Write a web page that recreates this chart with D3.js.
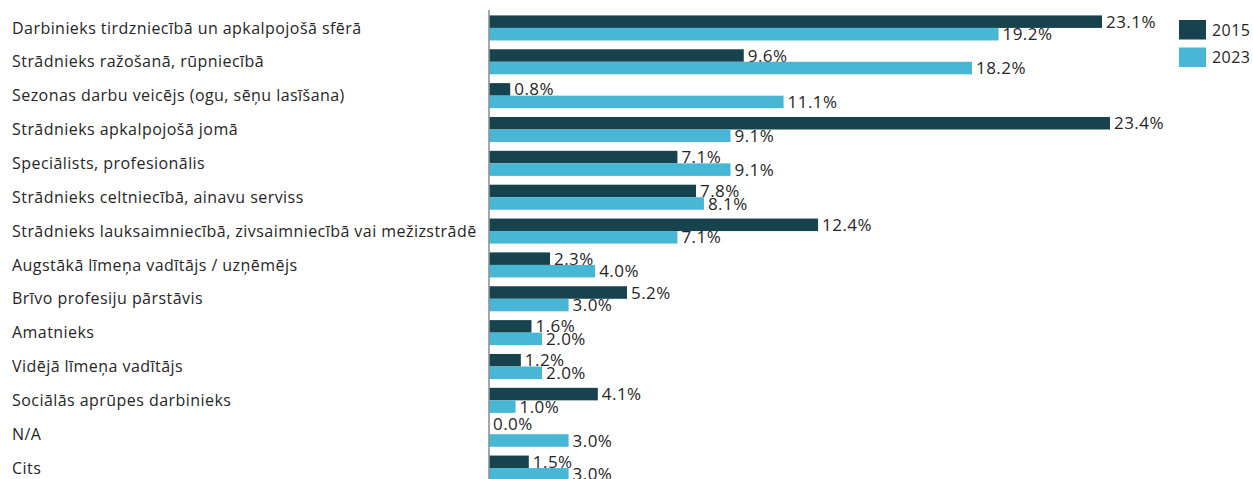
<!DOCTYPE html>
<html>
<head>
<meta charset="utf-8">
<script src="https://cdn.jsdelivr.net/npm/d3@7"></script>
<style>
  html, body { margin: 0; padding: 0; background: #fff; }
  svg text { font-family: "Open Sans", "Noto Sans", sans-serif; fill: #262626; letter-spacing: 0.45px; }
</style>
</head>
<body>
<svg id="chart" width="1253" height="479"></svg>
<script>
const categories = [
  "Darbinieks tirdzniecībā un apkalpojošā sfērā",
  "Strādnieks ražošanā, rūpniecībā",
  "Sezonas darbu veicējs (ogu, sēņu lasīšana)",
  "Strādnieks apkalpojošā jomā",
  "Speciālists, profesionālis",
  "Strādnieks celtniecībā, ainavu serviss",
  "Strādnieks lauksaimniecībā, zivsaimniecībā vai mežizstrādē",
  "Augstākā līmeņa vadītājs / uzņēmējs",
  "Brīvo profesiju pārstāvis",
  "Amatnieks",
  "Vidējā līmeņa vadītājs",
  "Sociālās aprūpes darbinieks",
  "N/A",
  "Cits"
];
const values2015 = [23.1, 9.6, 0.8, 23.4, 7.1, 7.8, 12.4, 2.3, 5.2, 1.6, 1.2, 4.1, 0.0, 1.5];
const values2023 = [19.2, 18.2, 11.1, 9.1, 9.1, 8.1, 7.1, 4.0, 3.0, 2.0, 2.0, 1.0, 3.0, 3.0];
const seriesNames = ["2015", "2023"];
const colors = ["#17434f", "#47b7d5"];

const svg = d3.select("#chart");
const axisX = 489;

const x = d3.scaleLinear().domain([0, 23.4]).range([axisX, 1110]);
const y = d3.scaleBand().domain(categories).range([11, 485]).paddingInner(0.26).paddingOuter(0.13);
const sub = d3.scaleBand().domain(seriesNames).range([0, y.bandwidth()]);

const rows = categories.map((c, i) => ({ c, vals: [values2015[i], values2023[i]] }));

// category labels
svg.append("g").selectAll("text").data(categories).join("text")
  .attr("x", 12)
  .attr("y", d => y(d) + y.bandwidth() / 2)
  .attr("dy", "0.35em")
  .attr("font-size", 16)
  .text(d => d);

// bars and value labels
const g = svg.append("g");
rows.forEach(r => {
  r.vals.forEach((v, j) => {
    const yy = y(r.c) + sub(seriesNames[j]);
    g.append("rect")
      .attr("x", x(0))
      .attr("y", yy)
      .attr("width", x(v) - x(0))
      .attr("height", sub.bandwidth())
      .attr("fill", colors[j]);
    // a zero-length bar has its label lifted slightly above the bar slot
    g.append("text")
      .attr("x", x(v) + 4)
      .attr("y", yy + sub.bandwidth() / 2 - (v === 0 ? 4 : 0))
      .attr("dy", "0.36em")
      .attr("font-size", 17)
      .text(v.toFixed(1) + "%");
  });
});

// vertical axis line
svg.append("line")
  .attr("x1", axisX).attr("x2", axisX)
  .attr("y1", 10).attr("y2", 479)
  .attr("stroke", "#88939a").attr("stroke-width", 1.6);

// legend
const lg = svg.append("g").attr("transform", "translate(1179,20)");
seriesNames.forEach((s, j) => {
  lg.append("rect").attr("x", 0).attr("y", j * 27.5).attr("width", 27).attr("height", 19.5).attr("fill", colors[j]);
  lg.append("text").attr("x", 33).attr("y", j * 27.5 + 10).attr("dy", "0.36em").attr("font-size", 16).text(s);
});
</script>
</body>
</html>
